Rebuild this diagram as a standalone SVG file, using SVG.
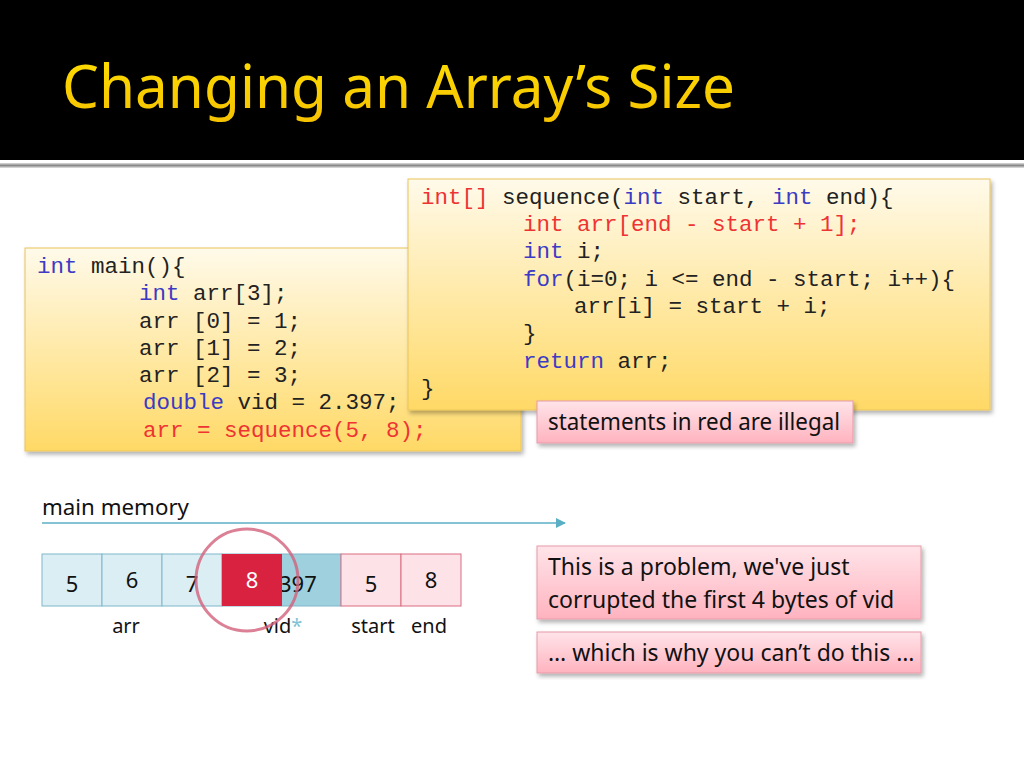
<svg xmlns="http://www.w3.org/2000/svg" width="1024" height="768" viewBox="0 0 1024 768">
<defs>
<linearGradient id="gold" x1="0" y1="0" x2="0" y2="1"><stop offset="0" stop-color="#FFFAEA"/><stop offset="1" stop-color="#FFD966"/></linearGradient>
<linearGradient id="pink" x1="0" y1="0" x2="0" y2="1"><stop offset="0" stop-color="#FFE4E9"/><stop offset="1" stop-color="#FFB3BF"/></linearGradient>
<linearGradient id="title" x1="0" y1="0" x2="0" y2="1"><stop offset="0" stop-color="#FFE200"/><stop offset="1" stop-color="#F5C000"/></linearGradient>
<linearGradient id="rule" x1="0" y1="0" x2="0" y2="1"><stop offset="0" stop-color="#DDDDDD"/><stop offset="0.5" stop-color="#888888"/><stop offset="1" stop-color="#E5E5E5"/></linearGradient>
<clipPath id="vidclip"><rect x="282" y="554" width="59" height="52"/></clipPath>
<filter id="sh" x="-5%" y="-5%" width="110%" height="120%"><feDropShadow dx="2" dy="3" stdDeviation="2" flood-color="#000" flood-opacity="0.3"/></filter>
<marker id="arr" viewBox="0 0 10 10" refX="9" refY="5" markerWidth="10" markerHeight="14" markerUnits="userSpaceOnUse" orient="auto"><path d="M0,0 L10,5 L0,10 Z" fill="#5AAFC4"/></marker>
<style>
.code{font-family:"Liberation Mono","Courier New",monospace;font-size:22.5px;fill:#222}
.kw{fill:#3B3BC4}
.red{fill:#EE3333}
.body{font-family:"Noto Sans","Open Sans",sans-serif;fill:#111}
.box{fill:url(#gold);stroke:#EAC45A;stroke-width:1;filter:url(#sh)}
.pk{fill:url(#pink);stroke:#E79AA7;stroke-width:1;filter:url(#sh)}
.cellb{fill:#DAEEF4;stroke:#7FB7CA;stroke-width:1}
.cellp{fill:#FDE3E8;stroke:#D96C80;stroke-width:1}
.num{font-family:"Noto Sans","Open Sans",sans-serif;font-size:22px;fill:#111;text-anchor:middle}
.lbl{font-family:"Noto Sans","Open Sans",sans-serif;font-size:20px;fill:#111;text-anchor:middle}
</style>
</defs>
<rect x="0" y="0" width="1024" height="768" fill="#FFFFFF"/>
<g id="header">
<rect x="0" y="0" width="1024" height="160" fill="#000"/>
<rect x="0" y="163" width="1024" height="5" fill="url(#rule)"/>
<text x="62" y="108" font-family="Noto Sans, Open Sans, sans-serif" font-size="60" fill="url(#title)" textLength="673" lengthAdjust="spacingAndGlyphs">Changing an Array’s Size</text>
</g>
<g id="main-code">
<rect class="box" x="25" y="248" width="496" height="203"/>
<text class="code" x="37" y="273"><tspan class="kw">int</tspan> main(){</text>
<text class="code" x="139" y="300"><tspan class="kw">int</tspan> arr[3];</text>
<text class="code" x="139" y="328">arr [0] = 1;</text>
<text class="code" x="139" y="355">arr [1] = 2;</text>
<text class="code" x="139" y="382">arr [2] = 3;</text>
<text class="code" x="143" y="409"><tspan class="kw">double</tspan> vid = 2.397;</text>
<text class="code red" x="143" y="437">arr = sequence(5, 8);</text>
</g>
<g id="sequence-code">
<rect class="box" x="408" y="179" width="582" height="231"/>
<text class="code" x="421" y="204"><tspan class="red">int[]</tspan> sequence(<tspan class="kw">int</tspan> start, <tspan class="kw">int</tspan> end){</text>
<text class="code red" x="523" y="231">int arr[end - start + 1];</text>
<text class="code" x="523" y="258"><tspan class="kw">int</tspan> i;</text>
<text class="code" x="523" y="286"><tspan class="kw">for</tspan>(i=0; i &lt;= end - start; i++){</text>
<text class="code" x="574" y="313">arr[i] = start + i;</text>
<text class="code" x="523" y="340">}</text>
<text class="code" x="523" y="368"><tspan class="kw">return</tspan> arr;</text>
<text class="code" x="421" y="395">}</text>
</g>
<g id="note-illegal">
<rect class="pk" x="537" y="401" width="316" height="42"/>
<text class="body" x="548" y="430" font-size="23" textLength="292" lengthAdjust="spacingAndGlyphs">statements in red are illegal</text>
</g>
<g id="memory-label">
<text class="body" x="42" y="515" font-size="21" textLength="147" lengthAdjust="spacingAndGlyphs">main memory</text>
</g>
<g id="connectors">
<line x1="42" y1="523" x2="565" y2="523" stroke="#5AAFC4" stroke-width="1.5" marker-end="url(#arr)"/>
</g>
<g id="memory">
<rect class="cellb" x="42" y="554" width="60" height="52"/>
<rect class="cellb" x="102" y="554" width="60" height="52"/>
<rect class="cellb" x="162" y="554" width="60" height="52"/>
<rect x="222" y="554" width="119" height="52" fill="#9ED0DD" stroke="#7FB7CA" stroke-width="1"/>
<rect class="cellp" x="341" y="554" width="60" height="52"/>
<rect class="cellp" x="401" y="554" width="60" height="52"/>
<text class="num" x="72" y="592">5</text>
<text class="num" x="132" y="588">6</text>
<text class="num" x="192" y="592">7</text>
<text class="num" x="279" y="592" style="text-anchor:start" clip-path="url(#vidclip)">397</text>
<rect x="222" y="554" width="60" height="52" fill="#D82240"/>
<text class="num" x="252" y="588" style="fill:#FFFFFF">8</text>
<text class="num" x="371" y="592">5</text>
<text class="num" x="431" y="588">8</text>
<text class="lbl" x="126" y="633">arr</text>
<text class="lbl" x="283" y="633">vid<tspan fill="#7DC3D6">*</tspan></text>
<text class="lbl" x="373" y="633">start</text>
<text class="lbl" x="429" y="633">end</text>
<circle cx="247" cy="580" r="51" fill="none" stroke="#D2607A" stroke-opacity="0.8" stroke-width="3"/>
</g>
<g id="note-problem">
<rect class="pk" x="537" y="546" width="384" height="73"/>
<text class="body" x="548" y="575" font-size="23">This is a problem, we've just</text>
<text class="body" x="548" y="608" font-size="23">corrupted the first 4 bytes of vid</text>
</g>
<g id="note-why">
<rect class="pk" x="537" y="632" width="384" height="41"/>
<text class="body" x="548" y="661" font-size="23">… which is why you can’t do this …</text>
</g>
</svg>
